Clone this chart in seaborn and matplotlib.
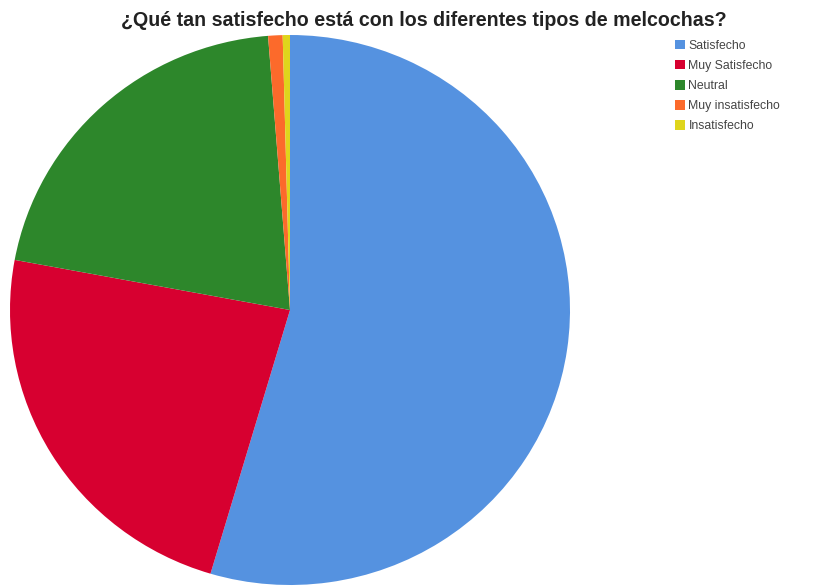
import matplotlib
matplotlib.use("Agg")
import matplotlib.pyplot as plt
from matplotlib.patches import Patch
import seaborn as sns

# Survey responses
categories = ["Satisfecho", "Muy Satisfecho", "Neutral", "Muy insatisfecho", "Insatisfecho"]
counts = [131, 56, 50, 2, 1]
colors = ["#5592e0", "#d70030", "#2d872b", "#fc6a2b", "#dfd51c"]

sns.set_theme(style="white")
plt.rcParams["font.family"] = ["Liberation Sans", "DejaVu Sans"]

fig = plt.figure(figsize=(8.15, 5.87), dpi=100)
fig.patch.set_facecolor("white")

W, H = 815, 587
cx, cy, rx, ry = 290, 310, 280, 275
ax = fig.add_axes([(cx - rx) / W, (H - cy - ry) / H, 2 * rx / W, 2 * ry / H])
palette = sns.color_palette(colors)
ax.pie(counts, colors=palette, startangle=90, counterclock=False,
       wedgeprops=dict(linewidth=0, antialiased=True))
ax.set_aspect("auto")
ax.set_xlim(-1, 1)
ax.set_ylim(-1, 1)
ax.axis("off")

fig.text(424 / W, 1 - 26 / H, "¿Qué tan satisfecho está con los diferentes tipos de melcochas?",
         ha="center", va="baseline", fontsize=14.1, fontweight="bold", color="#222222")

handles = [Patch(facecolor=c, edgecolor="none") for c in palette]
leg = fig.legend(handles, categories, loc="upper left",
                 bbox_to_anchor=(675 / W, 1 - 39.5 / H), frameon=False,
                 fontsize=8.8, handlelength=0.8, handleheight=0.85,
                 handletextpad=0.3, labelspacing=0.66, borderaxespad=0,
                 borderpad=0)
for t in leg.get_texts():
    t.set_color("#444444")

fig.savefig("out.png", dpi=100, facecolor="white")
